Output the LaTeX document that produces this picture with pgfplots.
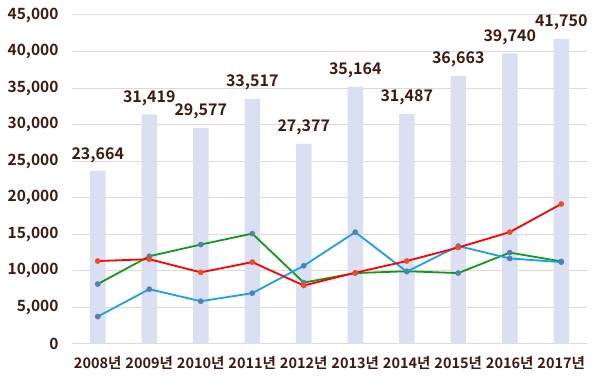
\documentclass[border=0pt]{standalone}
\usepackage{pgfplots}
\pgfplotsset{compat=1.18}
\usepackage{fontspec}
\setmainfont{Noto Sans CJK KR}[BoldFont={Noto Sans CJK KR Bold}]
\definecolor{txt}{HTML}{3E1A10}
\definecolor{barc}{HTML}{DAE0F1}
\definecolor{gridc}{HTML}{E3D8D8}
\definecolor{redl}{HTML}{FF0000}
\definecolor{redm}{HTML}{F04A1E}
\definecolor{greenl}{HTML}{10991A}
\definecolor{bluel}{HTML}{1AA0EA}
\definecolor{markb}{HTML}{5580AD}
\begin{document}
\begin{tikzpicture}[x=1pt,y=1pt]
\path (0,0) rectangle (600,388);
\begin{axis}[
  at={(72pt,44pt)}, anchor=south west,
  scale only axis, width=515pt, height=329pt,
  xmin=-0.5, xmax=9.5, ymin=0, ymax=45000,
  ytick={0,5000,...,45000},
  xtick={0,...,9},
  xticklabels={2008년,2009년,2010년,2011년,2012년,2013년,2014년,2015년,2016년,2017년},
  axis line style={draw=none},
  tick style={draw=none},
  ymajorgrids, grid style={gridc, line width=1pt},
  /pgf/number format/.cd, 1000 sep={,}, assume math mode=true,
  /pgfplots/.cd,
  scaled y ticks=false,
  yticklabel style={font=\fontsize{15.5}{16}\selectfont\bfseries, text=txt, xshift=-10pt},
  xticklabel style={font=\fontsize{14.5}{15}\selectfont\bfseries, text=txt, yshift=-9pt},
  clip=false,
]
\addplot[ybar, bar width=15.5pt, fill=barc, draw=none,
  nodes near coords,
  nodes near coords style={font=\fontsize{16}{17}\selectfont\bfseries, text=txt, yshift=5pt, /pgf/number format/1000 sep={,}},
] coordinates {(0,23664)(1,31419)(2,29577)(3,33517)(4,27377)(5,35164)(6,31487)(7,36663)(8,39740)(9,41750)};
\addplot[greenl, line width=1.8pt, mark=*, mark size=2.6pt, mark options={fill=markb, draw=markb, line width=0.4pt}]
 coordinates {(0,8200)(1,12000)(2,13600)(3,15100)(4,8400)(5,9700)(6,9950)(7,9700)(8,12500)(9,11300)};
\addplot[bluel, line width=1.8pt, mark=*, mark size=2.6pt, mark options={fill=markb, draw=markb, line width=0.4pt}]
 coordinates {(0,3750)(1,7500)(2,5850)(3,6950)(4,10700)(5,15300)(6,9900)(7,13400)(8,11700)(9,11200)};
\addplot[redl, line width=1.8pt, mark=*, mark size=2.6pt, mark options={fill=redm, draw=redm, line width=0.4pt}]
 coordinates {(0,11350)(1,11600)(2,9800)(3,11200)(4,8000)(5,9750)(6,11350)(7,13200)(8,15300)(9,19150)};
\end{axis}
\end{tikzpicture}
\end{document}
